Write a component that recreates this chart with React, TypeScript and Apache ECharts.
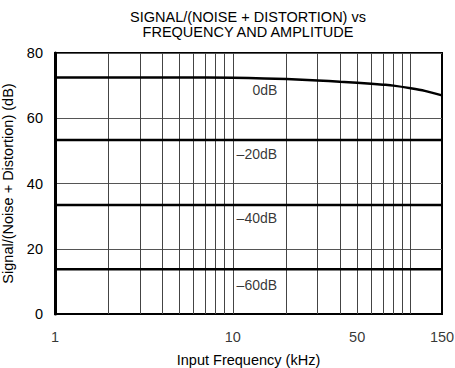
import React, { useEffect, useRef } from "react";
import * as echarts from "echarts";

const titleLines = ["SIGNAL/(NOISE + DISTORTION) vs", "FREQUENCY AND AMPLITUDE"];
const xName = "Input Frequency (kHz)";
const yName = "Signal/(Noise + Distortion) (dB)";

// vertical log grid lines (kHz)
const freqGrid = [2, 3, 4, 5, 6, 7, 8, 9, 10, 20, 30, 40, 50, 60, 70, 80, 90, 100];
const xTickLabels = [1, 10, 50, 150];

// 0dB curve
const curve0Freq = [1, 2, 5, 10, 15, 20, 30, 40, 50, 60, 70, 80, 100, 120, 150];
const curve0Vals = [72.5, 72.5, 72.5, 72.4, 72.2, 72.0, 71.6, 71.2, 70.9, 70.6, 70.3, 70.0, 69.2, 68.4, 67.0];

// flat curves for -20, -40, -60 dB
const flatFreq = [1, 150];
const curve20Vals = [53.3, 53.3];
const curve40Vals = [33.4, 33.4];
const curve60Vals = [13.7, 13.7];

// level labels
const levelNames = ["0dB", "–20dB", "–40dB", "–60dB"];
const levelLabelFreq = [12.9, 10.5, 10.5, 10.5];
const levelLabelY = [68.7, 49.0, 29.4, 8.9];

const FONT = '"Liberation Sans", Arial, Helvetica, sans-serif';

export default function App() {
  const ref = useRef<HTMLDivElement>(null);
  useEffect(() => {
    if (!ref.current) return;
    const chart = echarts.init(ref.current, null, { renderer: "svg" });
    const curveStyle = { color: "#000", width: 2.5 };
    const mk = (xs: number[], ys: number[]) => xs.map((x, i) => [x, ys[i]]);
    chart.setOption({
      animation: false,
      backgroundColor: "#fff",
      textStyle: { fontFamily: FONT, color: "#000" },
      title: {
        text: titleLines.join("\n"),
        left: 248,
        textAlign: "center",
        top: 9,
        padding: 0,
        textStyle: { fontFamily: FONT, fontSize: 14.5, fontWeight: "normal", color: "#000", lineHeight: 15.5 },
      },
      grid: {
        left: 55,
        right: 13,
        top: 53,
        bottom: 54,
        containLabel: false,
        outerBoundsMode: "none",
        show: true,
        borderColor: "#000",
        borderWidth: 2,
        backgroundColor: "transparent",
      },
      xAxis: {
        type: "log",
        logBase: 10,
        min: 1,
        max: 150,
        name: xName,
        nameLocation: "middle",
        nameGap: 38,
        nameTextStyle: { fontFamily: FONT, fontSize: 14.5, color: "#000" },
        axisLine: { show: true, lineStyle: { color: "#000", width: 2 } },
        axisTick: { show: false },
        axisLabel: { show: false },
        splitLine: { show: false },
        minorTick: { show: false },
        minorSplitLine: { show: false },
      },
      yAxis: {
        type: "value",
        min: 0,
        max: 80,
        interval: 20,
        name: yName,
        nameLocation: "middle",
        nameGap: 29,
        nameTextStyle: { fontFamily: FONT, fontSize: 14.5, color: "#000" },
        axisLine: { show: true, lineStyle: { color: "#000", width: 3 } },
        axisTick: { show: false },
        axisLabel: { margin: 12, fontFamily: FONT, fontSize: 14.5, color: "#000" },
        splitLine: { show: true, lineStyle: { color: "#555", width: 1 } },
      },
      series: [
        {
          type: "line",
          data: [],
          silent: true,
          markLine: {
            silent: true,
            symbol: "none",
            animation: false,
            label: { show: false },
            lineStyle: { color: "#444", width: 1, type: "solid" },
            data: freqGrid.map((f) => ({ xAxis: f })),
          },
        },
        {
          type: "scatter",
          symbolSize: 0,
          silent: true,
          clip: false,
          data: xTickLabels.map((f) => [f, 0]),
          label: {
            show: true,
            position: "bottom",
            distance: 15,
            fontFamily: FONT,
            fontSize: 14.5,
            color: "#000",
            formatter: (p: any) => String(p.data[0]),
          },
        },
        { type: "line", data: mk(curve0Freq, curve0Vals), smooth: 0.3, symbol: "none", lineStyle: curveStyle, z: 5 },
        { type: "line", data: mk(flatFreq, curve20Vals), symbol: "none", lineStyle: curveStyle, z: 5 },
        { type: "line", data: mk(flatFreq, curve40Vals), symbol: "none", lineStyle: curveStyle, z: 5 },
        { type: "line", data: mk(flatFreq, curve60Vals), symbol: "none", lineStyle: curveStyle, z: 5 },
        {
          type: "scatter",
          symbolSize: 0,
          silent: true,
          data: levelNames.map((n, i) => [levelLabelFreq[i], levelLabelY[i], n]),
          label: {
            show: true,
            position: "right",
            distance: 0,
            fontFamily: FONT,
            fontSize: 14,
            color: "#000",
            formatter: (p: any) => p.data[2],
          },
          z: 6,
        },
      ],
    });
    return () => chart.dispose();
  }, []);
  return (
    <div
      ref={ref}
      style={{ position: "fixed", left: 0, top: 0, width: 455, height: 368, background: "#fff" }}
    />
  );
}
